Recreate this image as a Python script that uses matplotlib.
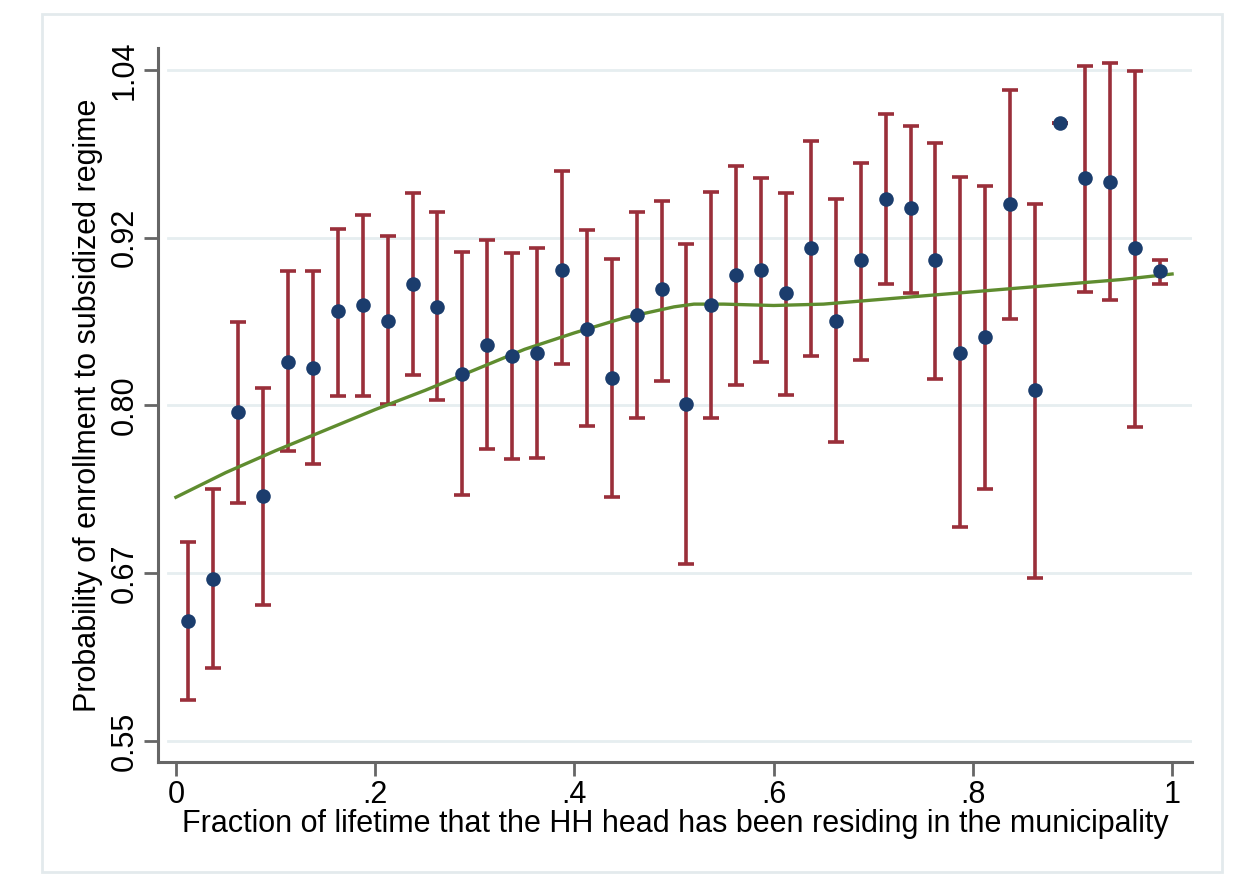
import numpy as np
import matplotlib
matplotlib.use("Agg")
import matplotlib.pyplot as plt
from matplotlib.patches import Rectangle

plt.rcParams['font.family'] = ['Liberation Sans', 'DejaVu Sans']

# bin midpoints of the fraction of lifetime (40 bins)
frac = [0.0125 + 0.025 * k for k in range(40)]

# mean probability per bin
prob = [0.638, 0.668, 0.790, 0.729, 0.827, 0.822, 0.864, 0.868, 0.857, 0.884,
        0.867, 0.818, 0.839, 0.831, 0.833, 0.894, 0.851, 0.815, 0.861, 0.880,
        0.796, 0.868, 0.890, 0.894, 0.877, 0.910, 0.857, 0.901, 0.946, 0.939,
        0.901, 0.833, 0.845, 0.942, 0.806, 1.001, 0.961, 0.958, 0.910, 0.893]

# confidence interval bounds
ci_lo = [0.580, 0.603, 0.724, 0.649, 0.762, 0.752, 0.802, 0.802, 0.796, 0.817,
         0.799, 0.730, 0.763, 0.756, 0.757, 0.825, 0.780, 0.728, 0.786, 0.813,
         0.679, 0.786, 0.810, 0.827, 0.803, 0.831, 0.768, 0.828, 0.884, 0.877,
         0.814, 0.706, 0.734, 0.858, 0.669, 1.001, 0.878, 0.872, 0.779, 0.884]
ci_hi = [0.695, 0.734, 0.856, 0.808, 0.893, 0.893, 0.924, 0.934, 0.919, 0.950,
         0.936, 0.907, 0.916, 0.906, 0.910, 0.966, 0.923, 0.902, 0.936, 0.944,
         0.913, 0.951, 0.970, 0.961, 0.950, 0.988, 0.946, 0.972, 1.008, 0.999,
         0.987, 0.962, 0.955, 1.025, 0.942, 1.001, 1.043, 1.045, 1.039, 0.901]

# lowess fit
fit_x = [0.0, 0.05, 0.1, 0.15, 0.2, 0.25, 0.3, 0.35, 0.4, 0.45, 0.5, 0.52,
         0.55, 0.6, 0.65, 0.7, 0.75, 0.8, 0.85, 0.9, 0.95, 1.0]
fit_y = [0.728, 0.746, 0.762, 0.777, 0.792, 0.806, 0.821, 0.836, 0.848, 0.859,
         0.867, 0.869, 0.869, 0.868, 0.869, 0.872, 0.875, 0.878, 0.881, 0.884,
         0.887, 0.891]

ytick_vals = np.linspace(0.55, 1.04, 5)
ytick_labels = ['0.55', '0.67', '0.80', '0.92', '1.04']
xtick_vals = [0, 0.2, 0.4, 0.6, 0.8, 1.0]
xtick_labels = ['0', '.2', '.4', '.6', '.8', '1']

fig = plt.figure(figsize=(12.45, 8.76), dpi=100)
# light frame around the graph region
fig.patches.append(Rectangle((42 / 1245, 1 - 872 / 876), 1180 / 1245, 858 / 876,
                             transform=fig.transFigure, fill=False,
                             edgecolor='#e3eaed', lw=2))
ax = fig.add_axes([158 / 1245, 1 - 762 / 876, 1034 / 1245, 714 / 876])

prob = np.array(prob)
yerr = [prob - np.array(ci_lo), np.array(ci_hi) - prob]
ax.errorbar(frac, prob, yerr=yerr, fmt='none', ecolor='#9a2f3a', elinewidth=2.6,
            capsize=5.8, capthick=2.6, zorder=2)
ax.plot(fit_x, fit_y, color='#5f8c2f', lw=2.4, zorder=3)
ax.scatter(frac, prob, s=110, color='#1b3d6d', zorder=4, linewidths=0)

ax.set_xlim(-0.018, 1.020)
ax.set_ylim(0.5347, 1.056)
ax.set_yticks(ytick_vals)
ax.set_yticklabels(ytick_labels, rotation=90, va='center', fontsize=22)
ax.set_xticks(xtick_vals)
ax.set_xticklabels(xtick_labels, fontsize=22)
for v in ytick_vals:
    ax.axhline(v, xmin=0.01, xmax=1.0, color='#e6eef0', lw=2, zorder=0)

for s in ['top', 'right']:
    ax.spines[s].set_visible(False)
for s in ['left', 'bottom']:
    ax.spines[s].set_color('#666666')
    ax.spines[s].set_linewidth(2.2)
ax.tick_params(axis='both', length=10, width=2, color='#666666', pad=3)

ax.set_xlabel('Fraction of lifetime that the HH head has been residing in the municipality',
              fontsize=22, va='top')
ax.xaxis.set_label_coords(0.5, -0.066)
ax.set_ylabel('Probability of enrollment to subsidized regime', fontsize=22)
ax.yaxis.label.set_va('center')
ax.yaxis.set_label_coords(-0.0677, 0.5)

fig.savefig('out.png', dpi=100)
